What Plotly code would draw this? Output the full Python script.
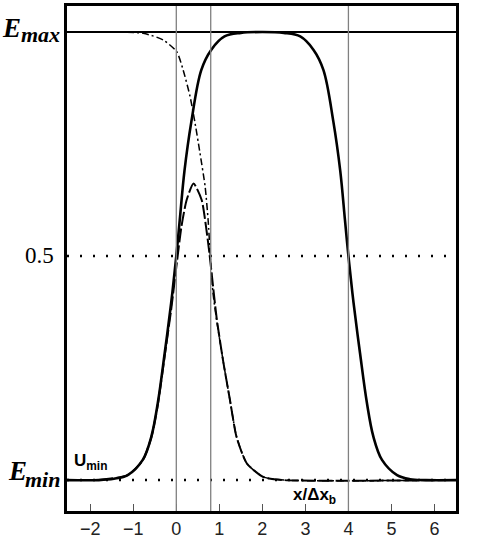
import plotly.graph_objects as go

# levels and marker positions
E_min = 0.0
E_half = 0.5
E_max = 1.0
x_lo, x_hi = -2.54, 6.50
marker_x = [0, 0.8, 4]
tick_vals = [-2, -1, 0, 1, 2, 3, 4, 5, 6]

# solid curve
solid_x = [-2.54, -1.8, -1.45, -1.13, -0.78, -0.58, -0.43, -0.27, -0.12, 0.0, 0.08, 0.19,
           0.35, 0.58, 0.81, 1.12, 1.5, 2.0, 2.5, 2.88, 3.19, 3.42, 3.65, 3.81, 3.92, 4.0,
           4.12, 4.27, 4.43, 4.58, 4.78, 5.13, 5.43, 5.8, 6.5]
solid_y = [0.0, 0.0, 0.003, 0.011, 0.045, 0.097, 0.172, 0.283, 0.395, 0.5, 0.58, 0.69,
           0.80, 0.915, 0.96, 0.99, 0.998, 1.0, 0.998, 0.99, 0.96, 0.915, 0.80, 0.69, 0.58, 0.5,
           0.395, 0.283, 0.172, 0.097, 0.045, 0.011, 0.002, 0.0, 0.0]

# dash-dot curve
dd_x = [-2.54, -0.77, -0.30, 0.01, 0.16, 0.32, 0.43, 0.55, 0.67, 0.74, 0.79, 0.85,
        0.94, 1.09, 1.25, 1.40, 1.64, 2.02, 2.5, 6.5]
dd_y = [1.0, 0.997, 0.982, 0.956, 0.915, 0.856, 0.80, 0.73, 0.655, 0.58, 0.50, 0.42,
        0.355, 0.265, 0.177, 0.097, 0.037, 0.007, 0.0, 0.0]

# dashed peak curve
dash_x = [-1.8, -1.13, -0.78, -0.58, -0.43, -0.27, -0.12, 0.0, 0.12, 0.24, 0.40, 0.59,
          0.69, 0.77, 0.94, 1.09, 1.25, 1.40, 1.64, 2.02, 2.5, 6.5]
dash_y = [0.0, 0.011, 0.044, 0.095, 0.168, 0.277, 0.38, 0.475, 0.566, 0.625, 0.662, 0.625,
          0.566, 0.506, 0.36, 0.265, 0.177, 0.096, 0.037, 0.007, 0.0, 0.0]

fig = go.Figure()

# reference levels
fig.add_trace(go.Scatter(x=[x_lo, x_hi], y=[E_min, E_min], mode="lines",
                         line=dict(color="black", width=2.5, dash="2px,11px")))
fig.add_trace(go.Scatter(x=[x_lo, x_hi], y=[E_half, E_half], mode="lines",
                         line=dict(color="black", width=2.5, dash="2px,11px")))
fig.add_trace(go.Scatter(x=[x_lo, x_hi], y=[E_max, E_max], mode="lines",
                         line=dict(color="black", width=2.2)))

for xv in marker_x:
    fig.add_shape(type="line", xref="x", yref="paper", x0=xv, x1=xv, y0=0, y1=1,
                  line=dict(color="#808080", width=1.3))

fig.add_trace(go.Scatter(x=dd_x, y=dd_y, mode="lines", line_shape="spline",
                         line=dict(color="black", width=1.5, dash="7px,3px,2px,3px",
                                   smoothing=0.6)))
fig.add_trace(go.Scatter(x=dash_x, y=dash_y, mode="lines", line_shape="spline",
                         line=dict(color="black", width=2, dash="14px,3px",
                                   smoothing=0.6)))
fig.add_trace(go.Scatter(x=solid_x, y=solid_y, mode="lines", line_shape="spline",
                         line=dict(color="black", width=2.6)))

serif_bi = "Liberation Serif"
lab = [
    ("<b><i>E</i></b>", 27, E_max, -44, 4),
    ("<b><i>max</i></b>", 22, E_max, -5, -3),
    ("<b><i>E</i></b>", 27, E_min, -38, 9),
    ("<b><i>min</i></b>", 22, E_min, -5, 1),
]
for txt, size, yv, xs, ys in lab:
    fig.add_annotation(text=txt, xref="paper", x=0, xanchor="right", xshift=xs,
                       yref="y", y=yv, yanchor="middle", yshift=ys, showarrow=False,
                       font=dict(family=serif_bi, size=size, color="black"))

fig.add_annotation(text="0.5", xref="paper", x=0, xanchor="right", xshift=-11,
                   yref="y", y=E_half, yanchor="middle", yshift=1, showarrow=False,
                   font=dict(family=serif_bi, size=23, color="black"))

fig.add_annotation(text="<b>U<sub>min</sub></b>", x=-2.42, xanchor="left", y=0.04,
                   yanchor="middle", showarrow=False,
                   font=dict(family="Liberation Sans", size=17, color="black"))
fig.add_annotation(text="<b>x/Δx<sub>b</sub></b>", x=2.67, xanchor="left", y=-0.036,
                   yanchor="middle", showarrow=False,
                   font=dict(family="Liberation Sans", size=17, color="black"))

fig.update_layout(
    width=480, height=539,
    margin=dict(l=67, r=24, t=6, b=28),
    paper_bgcolor="white", plot_bgcolor="white",
    showlegend=False,
)
fig.update_xaxes(range=[x_lo, x_hi], tickvals=tick_vals, ticks="inside", ticklen=7,
                 tickwidth=1, tickcolor="#555", showgrid=False, zeroline=False,
                 showline=True, linecolor="black", linewidth=2.5, mirror=True,
                 automargin=False,
                 tickfont=dict(family="Liberation Sans", size=18, color="#222"))
fig.update_yaxes(range=[-0.069, 1.058], showticklabels=False, ticks="", showgrid=False,
                 zeroline=False, showline=True, linecolor="black", linewidth=2.5,
                 mirror=True, automargin=False)

fig.write_html("out.html", config={"displayModeBar": False},
               post_script="document.body.style.margin='0';document.body.style.overflow='hidden';")
